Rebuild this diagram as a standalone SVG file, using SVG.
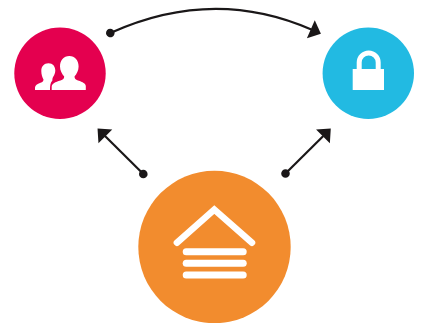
<svg xmlns="http://www.w3.org/2000/svg" width="422" height="323" viewBox="0 0 422 323">
<style>
.c{fill:none;stroke:#1a1718;stroke-width:2.2;marker-start:url(#dot);marker-end:url(#head)}
.w{fill:#fff}
.ws{fill:none;stroke:#fff}
</style>
<defs>
<marker id="head" markerUnits="userSpaceOnUse" markerWidth="12" markerHeight="20" refX="0.5" refY="9.8" orient="auto" overflow="visible"><path d="M0 0L11 9.8L0 19.6Z" fill="#1a1718"/></marker>
<marker id="dot" markerUnits="userSpaceOnUse" markerWidth="10" markerHeight="10" refX="5" refY="5" orient="auto" overflow="visible"><circle cx="5" cy="5" r="4.3" fill="#1a1718"/></marker>
</defs>
<rect width="422" height="323" fill="#fff"/>
<g id="connectors">
<path class="c" d="M110.300 33Q213-13.500 311.300 29.500"/>
<path class="c" d="M143.300 174L105 136"/>
<path class="c" d="M285.500 173.500L323.300 136"/>
</g>
<g id="people">
<circle cx="60" cy="73.200" r="45.700" fill="#e4004f"/>
<path class="w" d="M69.300 56C75 56 78.600 60.500 78.600 66.500C78.600 70.500 76.700 74 74.500 76.500C74.500 78.500 75.500 79.800 78 80.500C83 82 85.500 83.500 85.800 86V90H51.700V86.500C52.200 83.500 55 82 60.500 80.500C63.200 79.800 64.200 78.500 64.200 76.500C62 74 60 70.500 60 66.500C60 60.500 63.600 56 69.300 56Z"/>
<path class="w" d="M48.500 63.300C52.800 63.300 55.300 66.500 55.300 70.500C55.300 73 54.300 75 53.500 76.200C52.700 77.500 52.200 79 52.400 80.500C50.300 82.500 50 86 50 90H35V87.500C35.300 85.500 37 84 40.500 82.800C42.700 82 43.500 81 43.500 79.500C42.300 77.500 41.300 74.500 41.300 71C41.300 66.500 44 63.300 48.500 63.300Z"/>
</g>
<g id="lock">
<circle cx="368.300" cy="73.200" r="45.700" fill="#22bae2"/>
<rect class="w" x="352.700" y="69" width="31.300" height="21"/>
<path class="ws" stroke-width="5" d="M359.200 69V62.500A9.500 9.500 0 0 1 378.200 62.500V69"/>
</g>
<g id="house">
<circle cx="214.500" cy="247" r="76.200" fill="#f28c2e"/>
<path class="ws" stroke-width="6.500" stroke-linecap="round" d="M176.900 242.700L214.300 209.500L252 242.700"/>
<rect class="w" x="182.700" y="248.200" width="64" height="7" rx="3.500"/>
<rect class="w" x="182.700" y="259.800" width="64" height="7" rx="3.500"/>
<rect class="w" x="182.700" y="271.500" width="64" height="7" rx="3.500"/>
</g>
</svg>
